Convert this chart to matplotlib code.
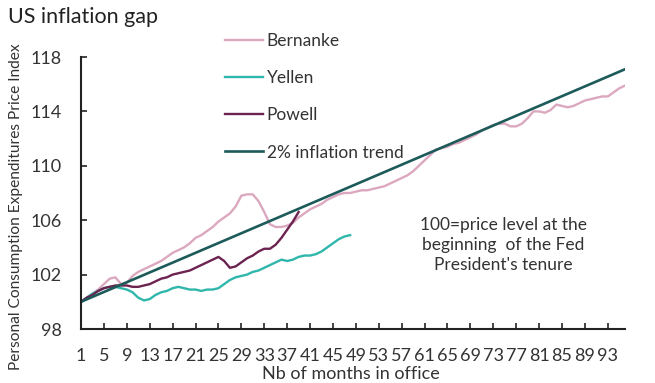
import numpy as np
import matplotlib
matplotlib.use("Agg")
import matplotlib.pyplot as plt

plt.rcParams['font.family'] = ['Lato', 'DejaVu Sans']

# price index, 100 = first month in office
bernanke = [100.0, 100.3, 100.6, 100.9, 101.3, 101.7, 101.8, 101.3, 101.4, 101.9,
            102.2, 102.4, 102.6, 102.8, 103.0, 103.3, 103.6, 103.8, 104.0, 104.3,
            104.7, 104.9, 105.2, 105.5, 105.9, 106.2, 106.5, 107.0, 107.8, 107.9,
            107.9, 107.4, 106.6, 105.7, 105.5, 105.5, 105.6, 105.8, 106.2, 106.5,
            106.8, 107.0, 107.2, 107.5, 107.7, 107.9, 108.0, 108.0, 108.1, 108.2,
            108.2, 108.3, 108.4, 108.5, 108.7, 108.9, 109.1, 109.3, 109.6, 110.0,
            110.4, 110.8, 111.2, 111.3, 111.4, 111.6, 111.7, 111.9, 112.1, 112.3,
            112.6, 112.8, 113.0, 113.1, 113.1, 112.9, 112.9, 113.1, 113.5, 114.0,
            114.0, 113.9, 114.1, 114.5, 114.4, 114.3, 114.4, 114.6, 114.8, 114.9,
            115.0, 115.1, 115.1, 115.4, 115.7, 115.9]
yellen = [100.0, 100.3, 100.6, 100.8, 101.0, 101.1, 101.1, 101.0, 100.9, 100.7,
          100.3, 100.1, 100.2, 100.5, 100.7, 100.8, 101.0, 101.1, 101.0, 100.9,
          100.9, 100.8, 100.9, 100.9, 101.0, 101.3, 101.6, 101.8, 101.9, 102.0,
          102.2, 102.3, 102.5, 102.7, 102.9, 103.1, 103.0, 103.1, 103.3, 103.4,
          103.4, 103.5, 103.7, 104.0, 104.3, 104.6, 104.8, 104.9]
powell = [100.0, 100.3, 100.5, 100.8, 101.0, 101.1, 101.2, 101.2, 101.2, 101.1,
          101.1, 101.2, 101.3, 101.5, 101.7, 101.8, 102.0, 102.1, 102.2, 102.3,
          102.5, 102.7, 102.9, 103.1, 103.3, 103.0, 102.5, 102.6, 102.9, 103.2,
          103.4, 103.7, 103.9, 103.9, 104.2, 104.7, 105.3, 105.9, 106.6]
trend_months = [1, 96]
trend = [100.0, 117.1]

x_ticks = list(range(1, 94, 4))
y_ticks = [98, 102, 106, 110, 114, 118]

col_b = '#dba8bf'
col_y = '#30b7ab'
col_p = '#6c2350'
col_t = '#1d5a5a'

fig = plt.figure(figsize=(6.55, 3.83), dpi=100)
ax = fig.add_axes([81/655, 1 - 329/383, 544/655, 272/383])

ax.plot(range(1, len(bernanke) + 1), bernanke, color=col_b, lw=1.7, label='Bernanke')
ax.plot(range(1, len(yellen) + 1), yellen, color=col_y, lw=1.7, label='Yellen')
ax.plot(range(1, len(powell) + 1), powell, color=col_p, lw=1.7, label='Powell')
ax.plot(trend_months, trend, color=col_t, lw=1.9, label='2% inflation trend')

ax.set_xlim(1, 96)
ax.set_ylim(98, 118)
ax.set_xticks(x_ticks)
ax.set_yticks(y_ticks)
ax.tick_params(direction='in', length=4, width=1.2, colors='#222222',
               labelsize=13, labelcolor='#333333')
ax.tick_params(axis='x', pad=14)
ax.tick_params(axis='y', pad=14)
for s in ['top', 'right']:
    ax.spines[s].set_visible(False)
for s in ['left', 'bottom']:
    ax.spines[s].set_color('#222222')
    ax.spines[s].set_linewidth(1.5)

fig.text(8/655, 1 - 17/383, 'US inflation gap', fontsize=15.5, color='#222222',
         va='center', ha='left')
fig.text(16/655, 1 - 207/383, 'Personal Consumption Expenditures Price Index',
         rotation=90, fontsize=11.2, color='#333333', va='center', ha='center')
fig.text(351/655, 1 - 374/383, 'Nb of months in office', fontsize=13,
         color='#333333', va='center', ha='center')

fig.text(503/655, 1 - 245/383, "100=price level at the\nbeginning  of the Fed\nPresident's tenure",
         fontsize=12.5, color='#333333', ha='center', va='center',
         linespacing=1.3)

leg = ax.legend(loc='upper left', bbox_to_anchor=(225/655, 1 - 33/383),
                bbox_transform=fig.transFigure, frameon=False, fontsize=12.5,
                handlelength=2.2, handletextpad=0.2, labelspacing=1.22,
                borderpad=0, borderaxespad=0)
for t in leg.get_texts():
    t.set_color('#333333')

fig.savefig('out.png', dpi=100)
